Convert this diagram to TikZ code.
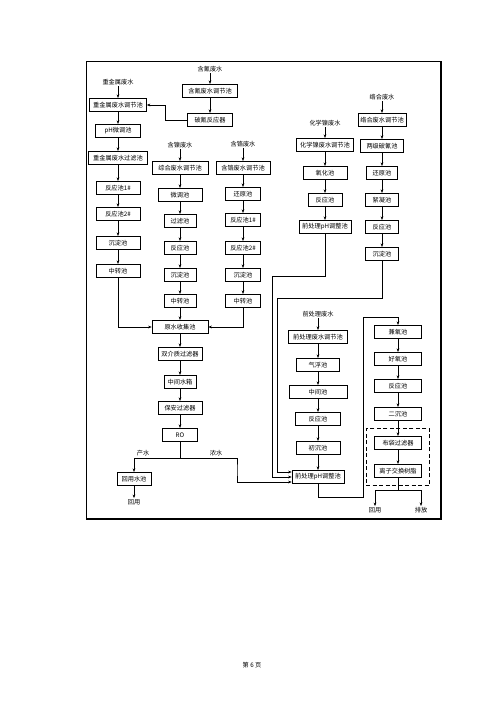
\documentclass[tikz,border=0pt]{standalone}
\usepackage{fontspec}
\newfontfamily\cjk{Noto Sans CJK SC}
\usepackage{tikz}
\usetikzlibrary{arrows.meta, positioning, fit}

\begin{document}
\begin{tikzpicture}[x=1pt, y=-1pt,
  box/.style={draw, line width=0.7pt, minimum width=#1, minimum height=13.5pt, inner xsep=1.5pt, inner ysep=1pt, font=\cjk\fontsize{6.2}{7}\selectfont},
  box/.default=44pt,
  src/.style={inner sep=1pt, font=\cjk\fontsize{6.2}{7}\selectfont},
  arr/.style={line width=0.5pt, -{Stealth[length=3.5pt, width=2.8pt]}},
  wire/.style={line width=0.5pt}
]
\useasboundingbox (0,0) rectangle (500,707);
\draw[line width=0.8pt] (86,61) rectangle (441,519);
\draw[line width=1.8pt] (441,61) -- (441,519) -- (86,519);

% heavy metal line
\node[src] (zjs) at (118,82) {重金属废水};
\node[box=57pt] (zjtj) at (118,105) {重金属废水调节池};
\node[box=45pt] (zjph) at (118,131) {pH微调池};
\node[box=59pt] (zjgl) at (118,158) {重金属废水过滤池};
\node[box] (zjfy1) at (118,188) {反应池1\#};
\node[box] (zjfy2) at (118,214) {反应池2\#};
\node[box] (zjcd) at (118,243) {沉淀池};
\node[box] (zjzz) at (118,271) {中转池};

\node[src] (cns) at (210,69) {含氰废水};
\node[box=55pt] (cntj) at (210,91) {含氰废水调节池};
\node[box=45pt] (cnfy) at (210,120) {破氰反应器};

\node[src] (ns) at (180,145) {含镍废水};
\node[box=56pt] (ntj) at (180,168) {综合废水调节池};
\node[box] (nwt) at (180,195) {微调池};
\node[box=32pt] (ngl) at (180,221) {过滤池};
\node[box=32pt] (nfy) at (180,248) {反应池};
\node[box=32pt] (ncd) at (180,275) {沉淀池};
\node[box=32pt] (nzz) at (180,301) {中转池};

\node[src] (gs) at (243,144) {含铬废水};
\node[box=54pt] (gtj) at (243,168) {含铬废水调节池};
\node[box=35pt] (ghy) at (243,194) {还原池};
\node[box=35pt] (gfy1) at (243,220) {反应池1\#};
\node[box=35pt] (gfy2) at (243,248) {反应池2\#};
\node[box=35pt] (gcd) at (243,275) {沉淀池};
\node[box=35pt] (gzz) at (243,301) {中转池};

% collection and RO
\node[box=56pt] (ysj) at (180,327) {原水收集池};
\node[box] (sjz) at (180,354) {双介质过滤器};
\node[box=32pt] (zjsx) at (180,382) {中间水箱};
\node[box] (bagl) at (180,408) {保安过滤器};
\node[box=35pt] (ro) at (180,435) {RO};
\node[box=34pt] (hysc) at (134,479) {回用水池};
\node[src] (hy1) at (134,502) {回用};
\node[src] (csl) at (143,453) {产水};
\node[src] (nsl) at (216,453) {浓水};

\node[src] (hns) at (325,123) {化学镍废水};
\node[box=57pt] (hntj) at (325,145) {化学镍废水调节池};
\node[box] (hnyh) at (325,173) {氧化池};
\node[box=34pt] (hnfy) at (325,200) {反应池};
\node[box=52pt] (hnph) at (325,227) {前处理pH调整池};

\node[src] (lhs) at (382,97) {络合废水};
\node[box=48pt] (lhtj) at (382,120) {络合废水调节池};
\node[box=43pt] (lhpl) at (382,146) {两级破氰池};
\node[box=31pt] (lhhy) at (382,173) {还原池};
\node[box=33pt] (lhxn) at (382,200) {絮凝池};
\node[box=33pt] (lhfy) at (382,227) {反应池};
\node[box=33pt] (lhcd) at (382,254) {沉淀池};

% pretreatment line
\node[src] (qcs) at (318,314) {前处理废水};
\node[box=59pt] (qctj) at (318,337) {前处理废水调节池};
\node[box=43pt] (qcqf) at (318,365) {气浮池};
\node[box=58pt] (qczj) at (318,392) {中间池};
\node[box=45pt] (qcfy) at (318,419) {反应池};
\node[box=44pt] (qccc) at (318,448) {初沉池};
\node[box=52pt] (qcph) at (318,477) {前处理pH调整池};

\node[box=47pt] (jy) at (398,332) {兼氧池};
\node[box=47pt] (hy) at (398,359) {好氧池};
\node[box=47pt] (sfy) at (398,386) {反应池};
\node[box=47pt] (ec) at (398,414) {二沉池};
\node[box=47pt] (bd) at (398,443) {布袋过滤器};
\node[box=47pt] (lz) at (398,471) {离子交换树脂};
\node[draw, line width=1pt, dash pattern=on 4pt off 2.5pt, inner xsep=8pt, inner ysep=7pt, fit=(bd)(lz)] (xfk) {};
\node[src] (hy2) at (375,510) {回用};
\node[src] (pf) at (421,510) {排放};

\node[src] (ym) at (252,665) {第 6 页};

\foreach \a/\b in {zjs/zjtj, zjtj/zjph, zjph/zjgl, zjgl/zjfy1, zjfy1/zjfy2, zjfy2/zjcd, zjcd/zjzz,
  cns/cntj, cntj/cnfy, ns/ntj, ntj/nwt, nwt/ngl, ngl/nfy, nfy/ncd, ncd/nzz,
  gs/gtj, gtj/ghy, ghy/gfy1, gfy1/gfy2, gfy2/gcd, gcd/gzz,
  nzz/ysj, ysj/sjz, sjz/zjsx, zjsx/bagl, bagl/ro, hysc/hy1,
  hns/hntj, hntj/hnyh, hnyh/hnfy, hnfy/hnph,
  lhs/lhtj, lhtj/lhpl, lhpl/lhhy, lhhy/lhxn, lhxn/lhfy, lhfy/lhcd,
  qcs/qctj, qctj/qcqf, qcqf/qczj, qczj/qcfy, qcfy/qccc, qccc/qcph,
  jy/hy, hy/sfy, sfy/ec, ec/bd, bd/lz}
  \draw[arr] (\a) -- (\b);

\draw[arr] (cnfy.west) -- ++(-22,0) |- (zjtj.east);
\draw[arr] (zjzz) |- (ysj);
\draw[arr] (gzz) |- (ysj);
\draw[wire] (ro.south) -- ++(0,16) coordinate (rosp);
\draw[arr] (rosp) -| (hysc);
\draw[arr] (rosp) -| (237,470) |- ([yshift=-5pt]qcph.west);
\draw[arr] (hnph) |- (272,276) |- (qcph.west);
\draw[arr] (lhcd) |- (277,298) |- ([yshift=5pt]qcph.west);
\draw[arr] (qcph) |- (363,497) -- (363,317) -| (jy);
\draw[wire] (lz.south) -- ++(0,12) coordinate (lzsp);
\draw[arr] (lzsp) -| (hy2);
\draw[arr] (lzsp) -| (pf);
\end{tikzpicture}
\end{document}
